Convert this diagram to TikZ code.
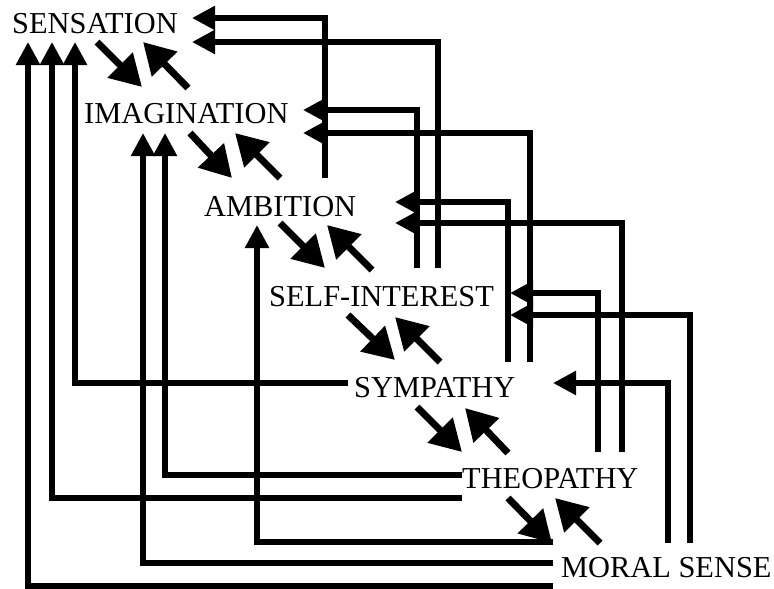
\documentclass[tikz,border=0pt]{standalone}
\usepackage{fontspec}
\setmainfont{Liberation Serif}
\usetikzlibrary{arrows.meta}
\begin{document}
\begin{tikzpicture}[x=1pt,y=-1pt,
  lbl/.style={anchor=base west,inner sep=0pt,font=\fontsize{30.4}{31}\selectfont},
  diag/.style={line width=7pt,-{Triangle[length=31pt,width=34pt]}},
  feed/.style={line width=5.5pt,line join=miter,-{Triangle[length=23pt,width=23pt]}}]
\useasboundingbox (0,0) rectangle (774,589);
% labels
\node[lbl] (sen) at (12,33) {SENSATION};
\node[lbl] (ima) at (84,123) {IMAGINATION};
\node[lbl] (amb) at (204,216) {AMBITION};
\node[lbl] (sel) at (269,306) {SELF-INTEREST};
\node[lbl] (sym) at (354,397) {SYMPATHY};
\node[lbl] (the) at (462,488) {THEOPATHY};
\node[lbl] (mor) at (561,577) {MORAL SENSE};
% diagonal arrows
\draw[diag] (97,42) -- (142,87);
\draw[diag] (188,88) -- (143,42);
\draw[diag] (190,133) -- (232,178);
\draw[diag] (280,178) -- (235,133);
\draw[diag] (280,223) -- (325,268);
\draw[diag] (372,270) -- (327,225);
\draw[diag] (348,315) -- (395,360);
\draw[diag] (440,362) -- (395,317);
\draw[diag] (417,407) -- (462,452);
\draw[diag] (508,453) -- (465,408);
\draw[diag] (508,498) -- (552,543);
\draw[diag] (600,543) -- (555,498);
% right-side feedback
\draw[feed] (325,178) -- (325,18) -- (192,18);
\draw[feed] (438,268) -- (438,42) -- (192,42);
\draw[feed] (417,268) -- (417,110) -- (303,110);
\draw[feed] (530,362) -- (530,133) -- (303,133);
\draw[feed] (508,362) -- (508,202) -- (395,202);
\draw[feed] (622,452) -- (622,223) -- (395,223);
\draw[feed] (598,452) -- (598,293) -- (510,293);
\draw[feed] (690,543) -- (690,315) -- (510,315);
\draw[feed] (668,543) -- (668,383) -- (553,383);
% left-side feedback
\draw[feed] (348,383) -- (75,383) -- (75,42);
\draw[feed] (462,498) -- (52,498) -- (52,42);
\draw[feed] (462,475) -- (165,475) -- (165,133);
\draw[feed] (553,586) -- (28,586) -- (28,42);
\draw[feed] (553,563) -- (143,563) -- (143,133);
\draw[feed] (553,542) -- (257,542) -- (257,225);
\end{tikzpicture}
\end{document}
